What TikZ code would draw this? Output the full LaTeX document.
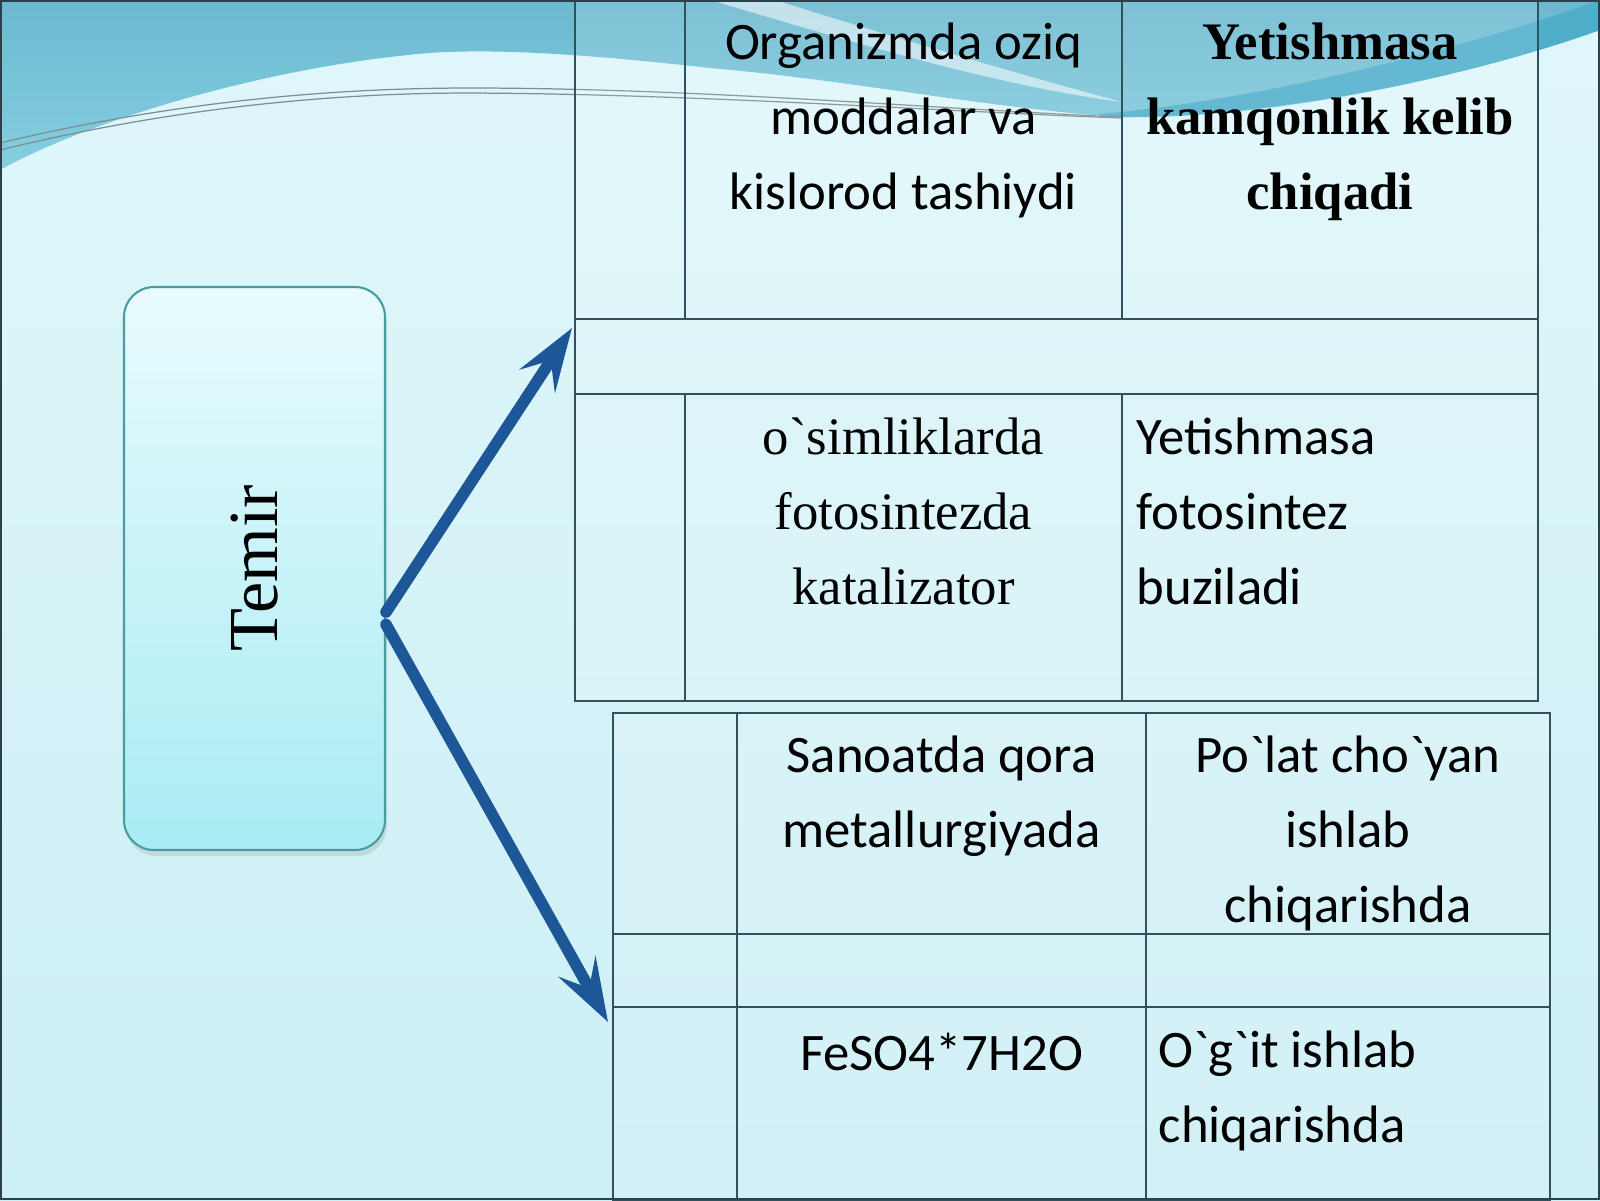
\documentclass[tikz,border=0pt]{standalone}
\usepackage{fontspec}
\setmainfont{Carlito}[Ligatures=TeXOff]
\newfontfamily\timesfont{Liberation Serif}[Ligatures=TeXOff]
\usetikzlibrary{arrows.meta}
\usetikzlibrary{shadows}

\definecolor{bgtop}{HTML}{E0F7FA}
\definecolor{bgbot}{HTML}{CCEFF5}
\definecolor{wavetop}{HTML}{6CB8D0}
\definecolor{wavebot}{HTML}{84CFE0}
\definecolor{wavedark}{HTML}{4FAFCB}
\definecolor{wavethin}{HTML}{7E8D92}
\definecolor{gridline}{HTML}{34505C}
\definecolor{arrowblue}{HTML}{1D5797}
\definecolor{boxedge}{HTML}{4A9C9E}
\definecolor{boxtop}{HTML}{E8FBFD}
\definecolor{boxbot}{HTML}{A9ECF4}

\begin{document}
\begin{tikzpicture}[
cell/.style={draw=gridline, line width=0.45pt, fill=white, fill opacity=0.12, inner sep=0pt, outer sep=0pt, anchor=north west},
sans/.style={font=\fontsize{15}{21.3}\selectfont, align=center, anchor=north, inner sep=0pt, execute at begin node=\strut},
sansleft/.style={sans, align=left, anchor=north west},
serif/.style={sans, font=\timesfont\fontsize{15}{21.3}\selectfont},
serifbold/.style={sans, font=\timesfont\bfseries\fontsize{15}{21.3}\selectfont},
ironbox/.style={draw=boxedge, line width=0.6pt, rounded corners=0.3cm, top color=boxtop, bottom color=boxbot, minimum width=2.61cm, minimum height=5.63cm, drop shadow={opacity=0.2, shadow xshift=0.02cm, shadow yshift=-0.06cm}},
thinwave/.style={draw=wavethin, line width=0.35pt},
arr/.style={draw=arrowblue, line width=3.3pt, line cap=round, -{Stealth[length=18pt, width=12pt, inset=7pt]}}]
\useasboundingbox (0,0) rectangle (16,-12);
\shade[top color=bgtop, bottom color=bgbot] (0,0) rectangle (16,-12);
\shade[top color=wavetop, bottom color=wavebot] (0,0) -- (16,0) -- (16,-0.3) .. controls (14.6,-0.8) and (12.6,-1.2) .. (11.22,-1.17) .. controls (10,-1.1) and (8.5,-0.8) .. (7.1,-0.68) .. controls (6.2,-0.58) and (4.9,-0.45) .. (4.08,-0.55) .. controls (2.6,-0.7) and (0.9,-1.2) .. (0,-1.7) -- cycle;
\fill[white, opacity=0.55] (7.1,0) .. controls (8.3,-0.35) and (9.9,-0.85) .. (11.22,-1.02) .. controls (10.1,-0.72) and (8.7,-0.3) .. (7.75,0) -- cycle;
\fill[wavedark] (11.0,-1.14) .. controls (12.6,-1.0) and (14.6,-0.5) .. (16,0) -- (16,-0.3) .. controls (14.6,-0.8) and (12.6,-1.2) .. (11.0,-1.17) -- cycle;
\draw[thinwave] (0,-1.43) .. controls (1.8,-1.0) and (3.4,-0.88) .. (4.7,-0.88) .. controls (7,-0.88) and (9.5,-1.1) .. (11.22,-1.17);
\draw[thinwave] (0,-1.5) .. controls (1.8,-1.06) and (3.4,-0.93) .. (4.7,-0.93) .. controls (7,-0.94) and (9.5,-1.12) .. (11.22,-1.18);

\node[cell, minimum width=1.10cm, minimum height=3.19cm] (t1a) at (5.75,0) {};
\node[cell, minimum width=4.37cm, minimum height=3.19cm] (t1b) at (6.85,0) {};
\node[cell, minimum width=4.16cm, minimum height=3.19cm] (t1c) at (11.22,0) {};
\node[cell, minimum width=9.63cm, minimum height=0.75cm] (t1mid) at (5.75,-3.19) {};
\node[cell, minimum width=1.10cm, minimum height=3.07cm] (t1d) at (5.75,-3.94) {};
\node[cell, minimum width=4.37cm, minimum height=3.07cm] (t1e) at (6.85,-3.94) {};
\node[cell, minimum width=4.16cm, minimum height=3.07cm] (t1f) at (11.22,-3.94) {};

\node[cell, minimum width=1.24cm, minimum height=2.21cm] (t2a) at (6.13,-7.13) {};
\node[cell, minimum width=4.09cm, minimum height=2.21cm] (t2b) at (7.37,-7.13) {};
\node[cell, minimum width=4.04cm, minimum height=2.21cm] (t2c) at (11.46,-7.13) {};
\node[cell, minimum width=1.24cm, minimum height=0.73cm] (t2d) at (6.13,-9.34) {};
\node[cell, minimum width=4.09cm, minimum height=0.73cm] (t2e) at (7.37,-9.34) {};
\node[cell, minimum width=4.04cm, minimum height=0.73cm] (t2f) at (11.46,-9.34) {};
\node[cell, minimum width=1.24cm, minimum height=1.93cm] (t2g) at (6.13,-10.07) {};
\node[cell, minimum width=4.09cm, minimum height=1.93cm] (t2h) at (7.37,-10.07) {};
\node[cell, minimum width=4.04cm, minimum height=1.93cm] (t2i) at (11.46,-10.07) {};

\node[sans] (txtorg) at ([yshift=-0.22cm]t1b.north) {Organizmda oziq\\moddalar va\\kislorod tashiydi};
\node[serifbold] (txtkam) at ([yshift=-0.22cm]t1c.north) {Yetishmasa\\kamqonlik kelib\\chiqadi};
\node[serif] (txtfoto) at ([yshift=-0.23cm]t1e.north) {o`simliklarda\\fotosintezda\\katalizator};
\node[sansleft] (txtbuz) at ([xshift=0.14cm, yshift=-0.23cm]t1f.north west) {Yetishmasa\\fotosintez\\buziladi};
\node[sans] (txtsan) at ([yshift=-0.22cm]t2b.north) {Sanoatda qora\\metallurgiyada};
\node[sans] (txtpolat) at ([yshift=-0.22cm]t2c.north) {Po`lat cho`yan\\ishlab\\chiqarishda};
\node[sans] (txtfes) at ([yshift=-0.10cm]t2h.north) {FeSO4*7H2O};
\node[sansleft] (txtogit) at ([xshift=0.12cm, yshift=-0.23cm]t2i.north west) {O`g`it ishlab\\chiqarishda};

\node[ironbox] (temir) at (2.545,-5.685) {};
\node[rotate=90, font=\timesfont\fontsize{20}{24}\selectfont] (txttemir) at (temir.center) {Temir};

\coordinate (upend) at (5.72,-3.28);
\coordinate (downend) at (6.08,-10.22);
\draw[arr] ([yshift=-0.435cm]temir.east) -- (upend);
\draw[arr] ([yshift=-0.56cm]temir.east) -- (downend);

\draw[gridline!80!black, line width=0.6pt] (0.01,-0.01) rectangle (15.99,-11.99);
\end{tikzpicture}
\end{document}
